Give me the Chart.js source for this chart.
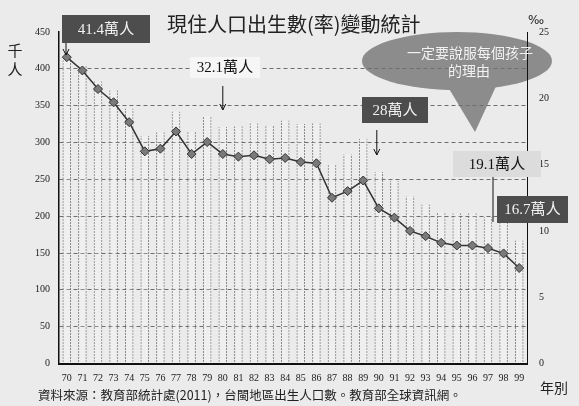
<!DOCTYPE html>
<html>
<head>
<meta charset="utf-8">
<script src="https://cdn.jsdelivr.net/npm/chart.js@4/dist/chart.umd.min.js"></script>
<style>
  body { margin: 0; background: #ebebeb; }
  canvas { display: block; }
</style>
</head>
<body>
<canvas id="myChart" width="579" height="406"></canvas>
<script>
// 年別 (民國)
var years = ['70','71','72','73','74','75','76','77','78','79',
             '80','81','82','83','84','85','86','87','88','89',
             '90','91','92','93','94','95','96','97','98','99'];

// 出生數 (千人), 左軸
var births = [414, 405, 383, 371, 346, 309, 314, 342, 315, 336,
              321, 322, 326, 323, 330, 325, 326, 271, 284, 305,
              260, 248, 227, 216, 206, 204, 204, 199, 191, 167];

// 出生率 (‰), 右軸
var birthRate = [23.1, 22.1, 20.7, 19.7, 18.2, 16.0, 16.2, 17.5, 15.8, 16.7,
                 15.8, 15.6, 15.7, 15.4, 15.5, 15.2, 15.1, 12.5, 13.0, 13.8,
                 11.7, 11.0, 10.0, 9.6, 9.1, 8.9, 8.9, 8.7, 8.3, 7.2];

var leftMax = 450;
var rightMax = 25;

var title = '現住人口出生數(率)變動統計';
var source = '資料來源：教育部統計處(2011)，台閩地區出生人口數。教育部全球資訊網。';
var bubbleLines = ['一定要說服每個孩子', '的理由'];

// dotted look for the bar outlines
function dottedPattern() {
    var c = document.createElement('canvas');
    c.width = 1; c.height = 3;
    var g = c.getContext('2d');
    g.fillStyle = 'rgba(100,100,100,0.8)';
    g.fillRect(0, 0, 1, 2);
    return g.createPattern(c, 'repeat');
}

function arrowDown(ctx, x, y1, y2) {
    ctx.beginPath();
    ctx.moveTo(x, y1);
    ctx.lineTo(x, y2);
    ctx.stroke();
    ctx.beginPath();
    ctx.moveTo(x - 3, y2 - 6);
    ctx.lineTo(x, y2);
    ctx.lineTo(x + 3, y2 - 6);
    ctx.stroke();
}

function labelBox(ctx, x, y, w, h, fill, color, text) {
    ctx.fillStyle = fill;
    ctx.fillRect(x, y, w, h);
    ctx.fillStyle = color;
    ctx.font = '15px "Liberation Serif", "Noto Sans CJK TC"';
    ctx.textAlign = 'center';
    ctx.textBaseline = 'middle';
    ctx.fillText(text, x + w / 2, y + h / 2 + 1);
}

var extras = {
    id: 'extras',
    beforeDraw: function (chart) {
        var ctx = chart.ctx;
        ctx.save();
        // speech bubble
        ctx.fillStyle = '#8c8c8c';
        ctx.beginPath();
        ctx.ellipse(457, 61, 95, 29, 0, 0, Math.PI * 2);
        ctx.fill();
        ctx.beginPath();
        ctx.moveTo(445, 82);
        ctx.lineTo(498, 82);
        ctx.lineTo(475, 132);
        ctx.closePath();
        ctx.fill();
        ctx.restore();
    },
    afterDraw: function (chart) {
        var ctx = chart.ctx;
        var xs = chart.scales.x;
        ctx.save();

        ctx.fillStyle = '#222';
        ctx.font = '20px "Noto Sans CJK TC"';
        ctx.textAlign = 'left';
        ctx.textBaseline = 'middle';
        ctx.fillText(title, 167, 24);

        ctx.font = '15px "Noto Sans CJK TC"';
        ctx.textAlign = 'center';
        ctx.fillText('千', 15, 50);
        ctx.fillText('人', 15, 69);

        ctx.font = '12px "DejaVu Sans"';
        ctx.textAlign = 'left';
        ctx.fillText('‰', 528, 21);

        ctx.font = '14px "Noto Sans CJK TC"';
        ctx.textAlign = 'center';
        ctx.fillText('年別', 554, 388);

        ctx.font = '12.5px "Noto Sans CJK TC"';
        ctx.textAlign = 'left';
        ctx.fillText(source, 38, 395);

        ctx.fillStyle = '#f2f2f2';
        ctx.font = '14px "Noto Sans CJK TC"';
        ctx.textAlign = 'center';
        ctx.fillText(bubbleLines[0], 470, 53);
        ctx.fillText(bubbleLines[1], 469, 71);

        ctx.strokeStyle = '#111';
        ctx.lineWidth = 1;
        arrowDown(ctx, 66, 43, 55);
        arrowDown(ctx, xs.getPixelForValue(10), 86, 110);
        arrowDown(ctx, xs.getPixelForValue(20) - 2, 130, 155);
        ctx.beginPath();
        ctx.moveTo(493, 177);
        ctx.lineTo(493, 222);
        ctx.stroke();

        labelBox(ctx, 62, 15, 88, 28, '#4d4d4d', '#f2f2f2', '41.4萬人');
        labelBox(ctx, 190, 57, 70, 21, '#f6f6f6', '#111', '32.1萬人');
        labelBox(ctx, 362, 97, 66, 26, '#4d4d4d', '#f2f2f2', '28萬人');
        labelBox(ctx, 453, 151, 88, 26, '#dcdcdc', '#111', '19.1萬人');
        labelBox(ctx, 497, 196, 71, 27, '#4d4d4d', '#f2f2f2', '16.7萬人');

        ctx.restore();
    }
};

var ctx = document.getElementById('myChart');

new Chart(ctx, {
    type: 'bar',
    data: {
        labels: years,
        datasets: [
            {
                type: 'line',
                label: '出生率',
                data: birthRate,
                yAxisID: 'y1',
                borderColor: '#333',
                borderWidth: 1.5,
                tension: 0,
                pointStyle: 'rectRot',
                pointRadius: 4.5,
                pointBackgroundColor: '#7a7a7a',
                pointBorderColor: '#333',
                pointBorderWidth: 1,
                order: 1
            },
            {
                label: '出生數',
                data: births,
                yAxisID: 'y',
                backgroundColor: 'rgba(255,255,255,0.2)',
                borderColor: dottedPattern(),
                borderWidth: { top: 0, bottom: 0, left: 1, right: 1 },
                categoryPercentage: 1,
                barPercentage: 0.55,
                order: 2
            }
        ]
    },
    options: {
        responsive: false,
        animation: false,
        layout: { padding: { top: 32, bottom: 20, left: 0, right: 0 } },
        plugins: {
            legend: { display: false },
            tooltip: { enabled: false }
        },
        scales: {
            x: {
                offset: true,
                grid: { drawOnChartArea: false, drawTicks: false },
                border: { color: '#111', width: 2 },
                ticks: {
                    color: '#1a1a1a',
                    padding: 9,
                    maxRotation: 0,
                    autoSkip: false,
                    font: { family: 'Liberation Serif', size: 10 }
                },
                afterFit: function (s) { s.height = 22.5; }
            },
            y: {
                position: 'left',
                min: 0,
                max: leftMax,
                ticks: {
                    stepSize: 50,
                    color: '#1a1a1a',
                    padding: 9,
                    font: { family: 'Liberation Serif', size: 10 }
                },
                grid: {
                    drawTicks: false,
                    lineWidth: 1,
                    color: function (c) {
                        return (c.tick && (c.tick.value === 0 || c.tick.value === leftMax)) ? 'rgba(0,0,0,0)' : '#6e6e6e';
                    }
                },
                border: { color: '#111', width: 1.5, dash: [4, 3] },
                afterFit: function (s) { s.width = 59; }
            },
            y1: {
                position: 'right',
                min: 0,
                max: rightMax,
                ticks: {
                    stepSize: 5,
                    color: '#1a1a1a',
                    padding: 12,
                    font: { family: 'Liberation Serif', size: 10 }
                },
                grid: { drawOnChartArea: false, drawTicks: false },
                border: { color: '#111', width: 1 },
                afterFit: function (s) { s.width = 52; }
            }
        }
    },
    plugins: [extras]
});
</script>
</body>
</html>
